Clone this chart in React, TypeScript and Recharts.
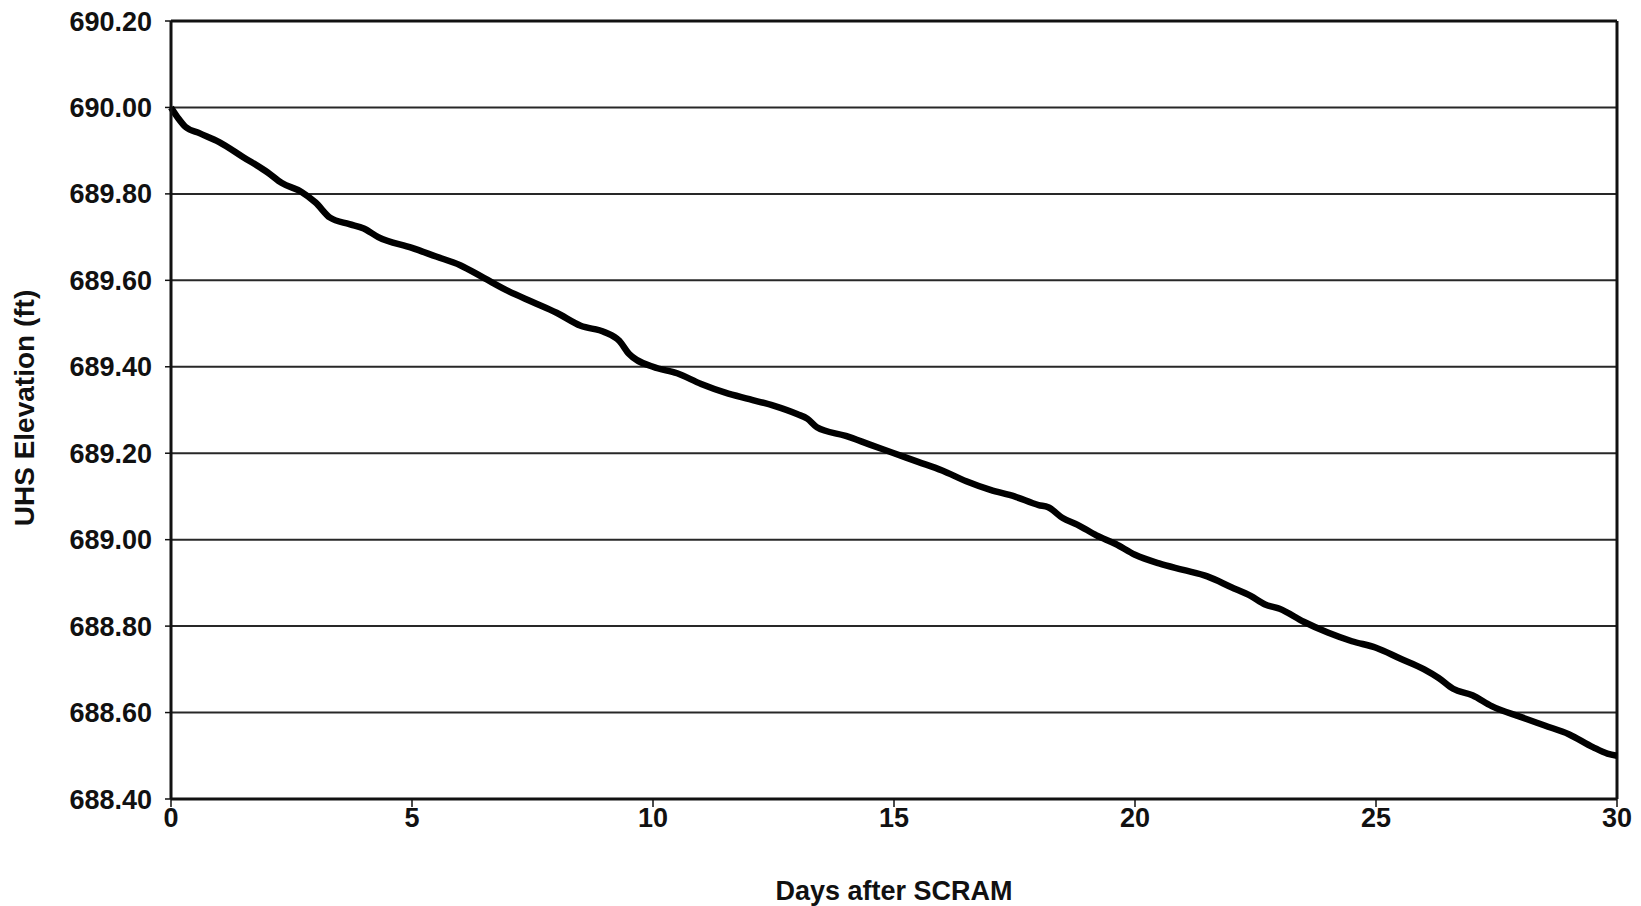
import React from 'react';
import { LineChart, Line, XAxis, YAxis, CartesianGrid, ReferenceLine, Label } from 'recharts';

const days = [
  0, 0.15, 0.3, 0.6, 1.0, 1.5, 2.0, 2.3, 2.7, 3.0, 3.3, 3.7, 4.0, 4.3, 5.0, 5.5, 6.0, 6.5,
  7.0, 7.5, 8.0, 8.5, 9.0, 9.3, 9.5, 10.0, 10.5, 11.0, 11.5, 12.0, 12.5, 13.0, 13.2, 13.4,
  14.0, 14.5, 15.0, 15.5, 16.0, 16.5, 17.0, 17.5, 18.0, 18.2, 18.5, 18.8, 19.2, 19.6, 20.0,
  20.5, 21.0, 21.5, 22.0, 22.4, 22.7, 23.0, 23.5, 24.0, 24.5, 25.0, 25.5, 26.0, 26.3, 26.6,
  27.0, 27.4, 28.0, 28.5, 29.0, 29.5, 29.8, 30.0,
];

const elevation = [
  690.0, 689.975, 689.955, 689.94, 689.92, 689.885, 689.85, 689.825, 689.805, 689.78, 689.745,
  689.73, 689.72, 689.7, 689.675, 689.655, 689.635, 689.605, 689.575, 689.55, 689.525, 689.495,
  689.48, 689.46, 689.43, 689.4, 689.385, 689.36, 689.34, 689.325, 689.31, 689.29, 689.28,
  689.26, 689.24, 689.22, 689.2, 689.18, 689.16, 689.135, 689.115, 689.1, 689.08, 689.075,
  689.05, 689.035, 689.01, 688.99, 688.965, 688.945, 688.93, 688.915, 688.89, 688.87, 688.85,
  688.84, 688.81, 688.785, 688.765, 688.75, 688.725, 688.7, 688.68, 688.655, 688.64, 688.615,
  688.59, 688.57, 688.55, 688.52, 688.505, 688.5,
];

const xTicks = [0, 5, 10, 15, 20, 25, 30];
const yTicks = [688.4, 688.6, 688.8, 689.0, 689.2, 689.4, 689.6, 689.8, 690.0, 690.2];

const data = days.map((d, i) => ({ day: d, elev: elevation[i] }));

const font = 'Liberation Sans, Arial, Helvetica, sans-serif';
const ink = '#111';

const YTitle = () => (
  <text
    x={24}
    y={408}
    transform="rotate(-90 24 408)"
    textAnchor="middle"
    dominantBaseline="central"
    fontFamily={font}
    fontWeight="bold"
    fontSize={28}
    fill={ink}
  >
    UHS Elevation (ft)
  </text>
);

export default function App() {
  return (
    <div style={{ position: 'absolute', left: 0, top: 0, background: '#fff' }}>
      <LineChart width={1641} height={906} data={data} margin={{ top: 21, right: 24, left: 0, bottom: 0 }}>
        <CartesianGrid horizontal vertical={false} stroke={ink} strokeWidth={2} strokeOpacity={0.9} />
        <XAxis
          dataKey="day"
          type="number"
          domain={[0, 30]}
          ticks={xTicks}
          height={107}
          tickSize={8}
          tickMargin={1}
          axisLine={{ stroke: ink, strokeWidth: 3 }}
          tickLine={{ stroke: ink, strokeWidth: 1.5 }}
          tick={{ fill: ink, fontFamily: font, fontWeight: 'bold', fontSize: 27 }}
        >
          <Label
            value="Days after SCRAM"
            position="insideBottom"
            offset={6}
            style={{ fill: ink, fontFamily: font, fontWeight: 'bold', fontSize: 27 }}
          />
        </XAxis>
        <YAxis
          type="number"
          domain={[688.4, 690.2]}
          ticks={yTicks}
          width={171}
          tickSize={6}
          tickMargin={13}
          tickFormatter={(v: number) => v.toFixed(2)}
          axisLine={{ stroke: ink, strokeWidth: 3 }}
          tickLine={{ stroke: ink, strokeWidth: 1.5 }}
          tick={{ fill: ink, fontFamily: font, fontWeight: 'bold', fontSize: 27 }}
          label={<Label content={<YTitle />} />}
        />
        <ReferenceLine y={690.2} stroke={ink} strokeWidth={3} />
        <ReferenceLine x={30} stroke={ink} strokeWidth={3} />
        <Line
          type="monotone"
          dataKey="elev"
          stroke="#000"
          strokeWidth={6.5}
          dot={false}
          isAnimationActive={false}
        />
      </LineChart>
    </div>
  );
}
